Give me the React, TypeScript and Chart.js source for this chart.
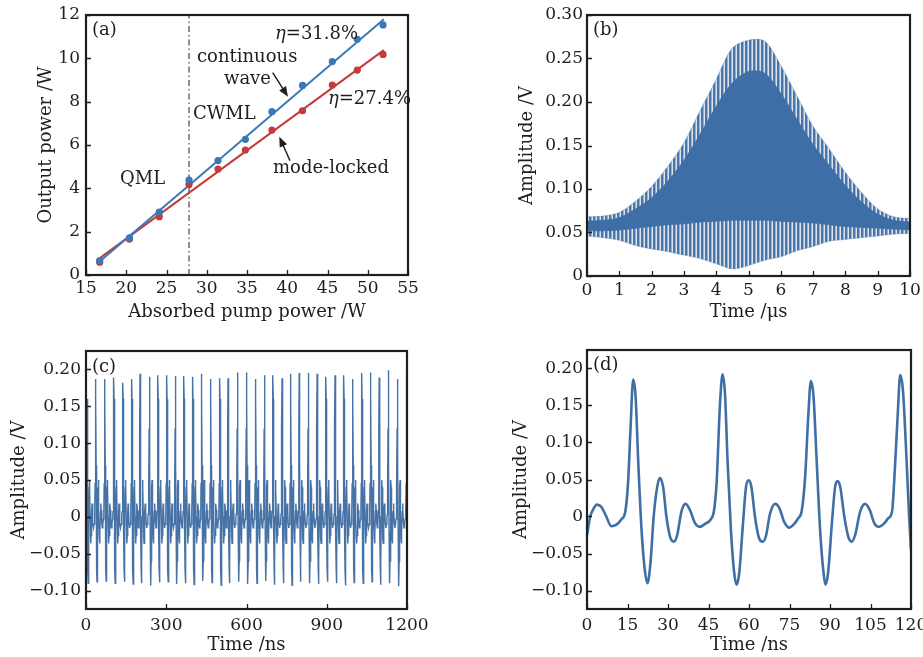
import React, { useEffect, useRef } from "react";
import { Chart, registerables } from "chart.js";

Chart.register(...registerables);

const FONT = '"DejaVu Serif", "Liberation Serif", serif';
const INK = "#1e1e1e";

// ---------- Panel (a): output power vs absorbed pump power ----------
const pumpPower = [16.7, 20.4, 24.1, 27.8, 31.4, 34.8, 38.1, 41.9, 45.6, 48.7, 51.9];
const cwPower = [0.66, 1.72, 2.9, 4.38, 5.28, 6.26, 7.54, 8.75, 9.85, 10.88, 11.54];
const mlPower = [0.59, 1.66, 2.69, 4.18, 4.89, 5.77, 6.69, 7.58, 8.77, 9.46, 10.18];
const cwFitX = [16.8, 52.0];
const cwFitY = [0.66, 11.8];
const mlFitX = [16.8, 52.0];
const mlFitY = [0.8, 10.38];
const thresholdX = [27.8, 27.8];
const thresholdY = [0, 12];
const xTicksA = [15, 20, 25, 30, 35, 40, 45, 50, 55];
const xLabelsA = ["15", "20", "25", "30", "35", "40", "45", "50", "55"];
const yTicksA = [0, 2, 4, 6, 8, 10, 12];
const yLabelsA = ["0", "2", "4", "6", "8", "10", "12"];

// ---------- Panel (b): Q-switched envelope ----------
const bTime = [0, 0.5, 1, 1.5, 2, 2.5, 3, 3.5, 4, 4.5, 5, 5.5, 6, 6.5, 7, 7.5, 8, 8.5, 9, 9.5, 10];
const bOuterUpper = [0.068, 0.069, 0.073, 0.086, 0.103, 0.126, 0.153, 0.19, 0.226, 0.262, 0.271, 0.27, 0.242, 0.207, 0.172, 0.146, 0.119, 0.096, 0.077, 0.068, 0.066];
const bOuterLower = [0.046, 0.044, 0.041, 0.035, 0.031, 0.028, 0.024, 0.02, 0.014, 0.008, 0.012, 0.018, 0.022, 0.029, 0.034, 0.04, 0.042, 0.044, 0.046, 0.048, 0.049];
const bInnerUpper = [0.063, 0.064, 0.067, 0.077, 0.09, 0.109, 0.133, 0.163, 0.195, 0.222, 0.235, 0.233, 0.21, 0.18, 0.151, 0.127, 0.104, 0.085, 0.071, 0.064, 0.062];
const bInnerLower = [0.052, 0.052, 0.053, 0.055, 0.057, 0.059, 0.06, 0.062, 0.063, 0.064, 0.064, 0.064, 0.063, 0.062, 0.061, 0.059, 0.057, 0.056, 0.055, 0.054, 0.053];
const xTicksB = [0, 1, 2, 3, 4, 5, 6, 7, 8, 9, 10];
const xLabelsB = ["0", "1", "2", "3", "4", "5", "6", "7", "8", "9", "10"];
const yTicksB = [0, 0.05, 0.1, 0.15, 0.2, 0.25, 0.3];
const yLabelsB = ["0", "0.05", "0.10", "0.15", "0.20", "0.25", "0.30"];

// ---------- Panel (c): mode-locked pulse train ----------
const pulseTimesC = [3, 36, 70, 104, 138, 171, 202, 237, 269, 302, 334, 366, 399, 432, 466, 500, 531, 566, 600, 634, 667, 699, 733, 765, 797, 831, 864, 897, 931, 964, 997, 1031, 1064, 1096, 1130, 1164, 1199];
const pulsePeaksC = [0.15, 0.187, 0.187, 0.189, 0.182, 0.187, 0.194, 0.19, 0.192, 0.192, 0.191, 0.191, 0.19, 0.194, 0.187, 0.188, 0.188, 0.196, 0.196, 0.187, 0.192, 0.192, 0.188, 0.194, 0.195, 0.195, 0.194, 0.19, 0.192, 0.192, 0.187, 0.195, 0.196, 0.189, 0.199, 0.187, 0.197];
const pulseTroughsC = [-0.09, -0.088, -0.087, -0.09, -0.088, -0.091, -0.09, -0.093, -0.089, -0.088, -0.091, -0.09, -0.092, -0.087, -0.089, -0.093, -0.09, -0.088, -0.091, -0.09, -0.087, -0.092, -0.09, -0.093, -0.088, -0.09, -0.091, -0.088, -0.09, -0.093, -0.089, -0.09, -0.088, -0.092, -0.09, -0.094, -0.089];
const pulseShapeOffsets = [-3, -2, -1, 0, 1, 2, 3, 4.3, 5.3, 6.5, 7.6, 9, 10, 11, 12.3, 14, 15, 16.3, 18, 19.5, 21, 23, 25, 27, 29, 30.3];
const pulseShapeValues = [0.007, 0.045, 0.12, 0, 0.16, 0.07, -0.02, -0.072, 0, -0.06, 0, 0.04, 0.05, 0.04, 0, -0.03, -0.036, -0.025, 0.007, 0.018, 0.009, -0.009, -0.015, -0.01, -0.003, 0.004];
const PEAK_INDEX = 3;
const TROUGH_INDEX = 8;
const xTicksC = [0, 300, 600, 900, 1200];
const xLabelsC = ["0", "300", "600", "900", "1200"];
const yTicksCD = [-0.1, -0.05, 0, 0.05, 0.1, 0.15, 0.2];
const yLabelsCD = ["\u22120.10", "\u22120.05", "0", "0.05", "0.10", "0.15", "0.20"];

// ---------- Panel (d): zoomed pulse waveform ----------
const dTime = [0, 1.2, 2.2, 3.7, 5.3, 6.9, 9.0, 10.9, 12.7, 14.2, 15.2, 16.1, 17.1, 18, 19, 20.2, 21.4, 22.4, 23.5, 24.7, 26, 27, 28.2, 29.4, 30.9, 32.2, 33.4, 35, 36.5, 38.1, 40, 41.8, 43.7, 45.8, 47, 48, 49.2, 50.2, 51.1, 52.1, 53.3, 54.4, 55.4, 56.4, 57.7, 58.9, 59.9, 60.9, 62.2, 63.7, 65.1, 66.3, 67.8, 69.7, 71.3, 73, 74.8, 76.5, 78.3, 79.5, 80.8, 82, 82.9, 83.9, 85.1, 86.4, 87.6, 88.3, 89.3, 90.7, 91.9, 92.8, 93.8, 95.3, 96.9, 98.1, 99.3, 101.2, 103, 104.7, 106.4, 108, 109.9, 111.7, 113, 113.8, 115.1, 116, 117, 118.3, 119.3, 120];
const dAmp = [-0.025, 0, 0.009, 0.016, 0.013, 0.002, -0.013, -0.011, -0.004, 0.007, 0.045, 0.117, 0.185, 0.162, 0.072, -0.018, -0.072, -0.09, -0.063, 0, 0.04, 0.052, 0.04, 0, -0.029, -0.034, -0.025, 0.007, 0.017, 0.009, -0.009, -0.014, -0.01, -0.004, 0.007, 0.045, 0.148, 0.192, 0.166, 0.072, -0.018, -0.072, -0.092, -0.076, -0.013, 0.04, 0.049, 0.04, 0, -0.029, -0.034, -0.026, 0.004, 0.017, 0.011, -0.007, -0.015, -0.011, -0.002, 0.007, 0.054, 0.139, 0.183, 0.162, 0.072, -0.022, -0.076, -0.092, -0.076, -0.009, 0.04, 0.048, 0.04, 0, -0.029, -0.034, -0.025, 0.007, 0.017, 0.009, -0.009, -0.014, -0.01, -0.002, 0.007, 0.049, 0.139, 0.191, 0.171, 0.081, 0, -0.045];
const xTicksD = [0, 15, 30, 45, 60, 75, 90, 105, 120];
const xLabelsD = ["0", "15", "30", "45", "60", "75", "90", "105", "120"];

const zip = (xs: number[], ys: number[]) => xs.map((x, i) => ({ x, y: ys[i] }));

function buildPulseTrain() {
  const pts: { x: number; y: number }[] = [];
  const n = pulseTimesC.length;
  pulseTimesC.forEach((t0, i) => {
    const next = i < n - 1 ? pulseTimesC[i + 1] : Infinity;
    pulseShapeOffsets.forEach((dt, j) => {
      const t = t0 + dt;
      if (t < 0) return;
      if (t >= next + pulseShapeOffsets[0]) return;
      const v = j === PEAK_INDEX ? pulsePeaksC[i] : j === TROUGH_INDEX ? pulseTroughsC[i] : pulseShapeValues[j];
      pts.push({ x: t, y: v });
    });
  });
  return pts;
}

function stripePattern(): any {
  const c = document.createElement("canvas");
  c.width = 4;
  c.height = 2;
  const g = c.getContext("2d")!;
  g.fillStyle = "rgba(63,111,167,0.95)";
  g.fillRect(0, 0, 2, 2);
  g.fillStyle = "rgba(63,111,167,0.55)";
  g.fillRect(2, 0, 1, 2);
  g.fillStyle = "rgba(63,111,167,0.18)";
  g.fillRect(3, 0, 1, 2);
  return g.createPattern(c, "repeat");
}

const framePlugin = {
  id: "frame",
  afterDatasetsDraw(chart: any) {
    const { ctx, chartArea: a, scales } = chart;
    ctx.save();
    ctx.strokeStyle = INK;
    ctx.lineWidth = 1.3;
    ctx.beginPath();
    scales.x.ticks.forEach((t: any) => {
      const px = Math.round(scales.x.getPixelForValue(t.value)) + 0.5;
      ctx.moveTo(px, a.bottom);
      ctx.lineTo(px, a.bottom - 5);
    });
    scales.y.ticks.forEach((t: any) => {
      const py = Math.round(scales.y.getPixelForValue(t.value)) + 0.5;
      ctx.moveTo(a.left, py);
      ctx.lineTo(a.left + 5, py);
    });
    ctx.stroke();
    ctx.lineWidth = 2.2;
    ctx.strokeRect(a.left, a.top, a.right - a.left, a.bottom - a.top);
    ctx.restore();
  },
};

const panelLabel = (text: string, dx: number, dy: number) => ({
  id: "panelLabel",
  afterDraw(chart: any) {
    const { ctx, chartArea: a } = chart;
    ctx.save();
    ctx.fillStyle = INK;
    ctx.font = `18px ${FONT}`;
    ctx.textAlign = "left";
    ctx.textBaseline = "middle";
    ctx.fillText(text, a.left + dx, a.top + dy);
    ctx.restore();
  },
});

function arrow(ctx: any, x1: number, y1: number, x2: number, y2: number) {
  const ang = Math.atan2(y2 - y1, x2 - x1);
  const hl = 10;
  const hw = 4;
  ctx.beginPath();
  ctx.moveTo(x1, y1);
  ctx.lineTo(x2 - Math.cos(ang) * hl * 0.8, y2 - Math.sin(ang) * hl * 0.8);
  ctx.stroke();
  ctx.beginPath();
  ctx.moveTo(x2, y2);
  ctx.lineTo(x2 - Math.cos(ang) * hl - Math.sin(ang) * hw, y2 - Math.sin(ang) * hl + Math.cos(ang) * hw);
  ctx.lineTo(x2 - Math.cos(ang) * hl + Math.sin(ang) * hw, y2 - Math.sin(ang) * hl - Math.cos(ang) * hw);
  ctx.closePath();
  ctx.fill();
}

const annotationsA = {
  id: "annotA",
  afterDatasetsDraw(chart: any) {
    const { ctx, scales } = chart;
    const X = (v: number) => scales.x.getPixelForValue(v);
    const Y = (v: number) => scales.y.getPixelForValue(v);
    ctx.save();
    ctx.fillStyle = INK;
    ctx.strokeStyle = INK;
    ctx.textAlign = "left";
    ctx.textBaseline = "middle";
    ctx.font = `18px ${FONT}`;
    ctx.fillText("continuous", X(28.79), Y(10.06));
    ctx.fillText("wave", X(32.14), Y(9.05));
    ctx.fillText("CWML", X(28.29), Y(7.43));
    ctx.fillText("QML", X(19.22), Y(4.43));
    ctx.fillText("mode-locked", X(38.23), Y(4.94));
    const eta = (x: number, y: number, rest: string) => {
      ctx.font = `italic 18px ${FONT}`;
      ctx.fillText("\u03b7", x, y);
      const w = ctx.measureText("\u03b7").width;
      ctx.font = `18px ${FONT}`;
      ctx.fillText(rest, x + w, y);
    };
    eta(X(38.48), Y(11.12), "=31.8%");
    eta(X(45.06), Y(8.12), "=27.4%");
    ctx.lineWidth = 1.4;
    arrow(ctx, X(38.19), Y(9.34), X(40.09), Y(8.23));
    arrow(ctx, X(40.34), Y(5.28), X(39.01), Y(6.38));
    ctx.restore();
  },
};

type AxisCfg = {
  min: number;
  max: number;
  ticks: number[];
  labels: string[];
  title: string;
  size: number;
  tickPad: number;
  titlePad: number;
};

function scaleOpts(axis: "x" | "y", c: AxisCfg) {
  return {
    type: "linear",
    position: axis === "x" ? "bottom" : "left",
    min: c.min,
    max: c.max,
    grid: { display: false, drawTicks: false },
    border: { display: false },
    afterBuildTicks: (s: any) => {
      s.ticks = c.ticks.map((v) => ({ value: v }));
    },
    afterFit: (s: any) => {
      if (axis === "x") s.height = c.size;
      else s.width = c.size;
      s.paddingLeft = 0;
      s.paddingRight = 0;
      s.paddingTop = 0;
      s.paddingBottom = 0;
    },
    ticks: {
      autoSkip: false,
      maxRotation: 0,
      minRotation: 0,
      padding: c.tickPad,
      color: INK,
      font: { family: FONT, size: 17 },
      callback: (_v: any, i: number) => c.labels[i],
    },
    title: {
      display: true,
      text: c.title,
      color: INK,
      font: { family: FONT, size: 18 },
      padding: axis === "x" ? { top: 0, bottom: c.titlePad } : { top: c.titlePad, bottom: 0 },
    },
  };
}

function baseOptions(x: AxisCfg, y: AxisCfg, padTop: number, padRight: number) {
  return {
    responsive: false,
    animation: false,
    events: [],
    layout: { padding: { left: 0, top: padTop, right: padRight, bottom: 0 } },
    plugins: { legend: { display: false }, tooltip: { enabled: false } },
    scales: { x: scaleOpts("x", x), y: scaleOpts("y", y) },
  };
}

function configA(): any {
  return {
    type: "line",
    data: {
      datasets: [
        { data: zip(pumpPower, cwPower), showLine: false, pointRadius: 3.6, pointBackgroundColor: "#3a78b8", pointBorderWidth: 0 },
        { data: zip(pumpPower, mlPower), showLine: false, pointRadius: 3.6, pointBackgroundColor: "#c43b3c", pointBorderWidth: 0 },
        { data: zip(cwFitX, cwFitY), borderColor: "#3a78b8", borderWidth: 2, pointRadius: 0 },
        { data: zip(mlFitX, mlFitY), borderColor: "#c43b3c", borderWidth: 2, pointRadius: 0 },
        { data: zip(thresholdX, thresholdY), borderColor: INK, borderWidth: 1, borderDash: [6, 3, 1.5, 3], pointRadius: 0 },
      ],
    },
    options: baseOptions(
      { min: 15, max: 55, ticks: xTicksA, labels: xLabelsA, title: "Absorbed pump power /W", size: 55, tickPad: 3, titlePad: 7 },
      { min: 0, max: 12, ticks: yTicksA, labels: yLabelsA, title: "Output power /W", size: 86, tickPad: 6, titlePad: 36 },
      15,
      53
    ),
    plugins: [framePlugin, annotationsA, panelLabel("(a)", 6, 15)],
  };
}

function configB(): any {
  const common = { pointRadius: 0, borderWidth: 0, tension: 0.3 };
  return {
    type: "line",
    data: {
      datasets: [
        { ...common, data: zip(bTime, bInnerUpper), fill: "+1", backgroundColor: "#3e6ea6", borderColor: "#3e6ea6", borderWidth: 0.8 },
        { ...common, data: zip(bTime, bInnerLower), borderColor: "#3e6ea6", borderWidth: 0.8 },
        { ...common, data: zip(bTime, bOuterUpper), fill: "+1", backgroundColor: stripePattern(), borderColor: "rgba(63,111,167,0.35)", borderWidth: 1 },
        { ...common, data: zip(bTime, bOuterLower), borderColor: "rgba(63,111,167,0.3)", borderWidth: 1 },
      ],
    },
    options: baseOptions(
      { min: 0, max: 10, ticks: xTicksB, labels: xLabelsB, title: "Time /\u03bcs", size: 54, tickPad: 4, titlePad: 7 },
      { min: 0, max: 0.3, ticks: yTicksB, labels: yLabelsB, title: "Amplitude /V", size: 126, tickPad: 4, titlePad: 56 },
      15,
      13
    ),
    plugins: [framePlugin, panelLabel("(b)", 6, 15)],
  };
}

function configC(): any {
  return {
    type: "line",
    data: {
      datasets: [{ data: buildPulseTrain(), borderColor: "#4672a6", borderWidth: 1.4, pointRadius: 0, tension: 0 }],
    },
    options: baseOptions(
      { min: 0, max: 1200, ticks: xTicksC, labels: xLabelsC, title: "Time /ns", size: 48, tickPad: 6.5, titlePad: 1 },
      { min: -0.125, max: 0.225, ticks: yTicksCD, labels: yLabelsCD, title: "Amplitude /V", size: 86, tickPad: 5, titlePad: 9 },
      21,
      54
    ),
    plugins: [framePlugin, panelLabel("(c)", 6, 16)],
  };
}

function configD(): any {
  return {
    type: "line",
    data: {
      datasets: [{ data: zip(dTime, dAmp), borderColor: "#3f6fa5", borderWidth: 2.6, pointRadius: 0, tension: 0.35, cubicInterpolationMode: "monotone" }],
    },
    options: baseOptions(
      { min: 0, max: 120, ticks: xTicksD, labels: xLabelsD, title: "Time /ns", size: 48, tickPad: 6.5, titlePad: 1 },
      { min: -0.125, max: 0.225, ticks: yTicksCD, labels: yLabelsCD, title: "Amplitude /V", size: 126, tickPad: 4, titlePad: 50 },
      20,
      12
    ),
    plugins: [framePlugin, panelLabel("(d)", 6, 15)],
  };
}

function Panel({ left, top, width, height, make }: { left: number; top: number; width: number; height: number; make: () => any }) {
  const ref = useRef<HTMLCanvasElement | null>(null);
  useEffect(() => {
    if (!ref.current) return;
    const chart = new Chart(ref.current, make());
    return () => chart.destroy();
  }, []);
  return (
    <canvas
      ref={ref}
      width={width}
      height={height}
      style={{ position: "absolute", left, top, width, height, display: "block" }}
    />
  );
}

export default function App() {
  return (
    <div style={{ position: "fixed", left: 0, top: 0, width: 923, height: 657, background: "#ffffff", overflow: "hidden" }}>
      <Panel left={0} top={0} width={461} height={330} make={configA} />
      <Panel left={461} top={0} width={462} height={330} make={configB} />
      <Panel left={0} top={330} width={461} height={327} make={configC} />
      <Panel left={461} top={330} width={462} height={327} make={configD} />
    </div>
  );
}
